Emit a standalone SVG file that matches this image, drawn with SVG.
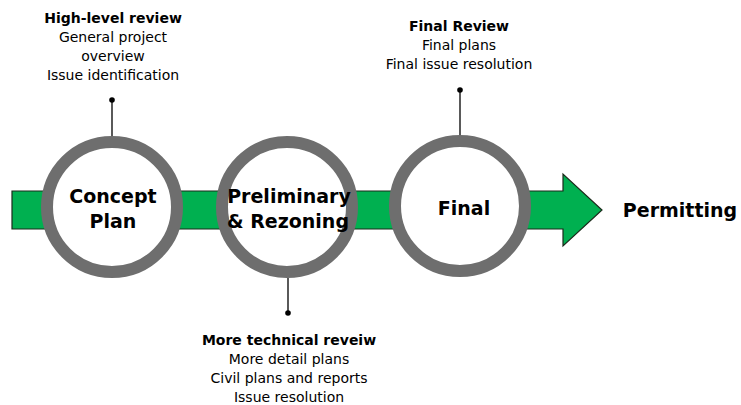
<svg xmlns="http://www.w3.org/2000/svg" width="741" height="405" viewBox="0 0 741 405">
<style>
  text { font-family: "DejaVu Sans", Verdana, sans-serif; fill: #000; text-anchor: middle; }
  .note { font-size: 14px; }
  .noteb { font-size: 14px; font-weight: bold; }
  .stage { font-size: 19px; font-weight: bold; }
  .ring { fill: #fff; stroke: #6e6e6e; stroke-width: 12; }
  .lead { stroke: #000; stroke-width: 1.3; fill: none; }
</style>
<rect width="741" height="405" fill="#fff"/>
<g id="arrow">
  <polygon points="12,191 563,191 563,174 602,210 563,246 563,229 12,229" fill="#00b050" stroke="#1b2a1b" stroke-width="1.2"/>
</g>
<g id="connectors">
  <line class="lead" x1="112" y1="100" x2="112" y2="137"/>
  <circle cx="112" cy="100" r="2.8" fill="#000"/>
  <line class="lead" x1="288" y1="278" x2="288" y2="313"/>
  <circle cx="288" cy="313" r="2.8" fill="#000"/>
  <line class="lead" x1="460" y1="90" x2="460" y2="136"/>
  <circle cx="460" cy="90" r="2.8" fill="#000"/>
</g>
<g id="concept">
  <circle class="ring" cx="112" cy="207" r="65"/>
  <text class="stage" x="113" y="203">Concept</text>
  <text class="stage" x="113" y="228">Plan</text>
</g>
<g id="preliminary">
  <circle class="ring" cx="287" cy="207" r="65"/>
  <text class="stage" x="289" y="203">Preliminary</text>
  <text class="stage" x="288" y="228">&amp; Rezoning</text>
</g>
<g id="final">
  <circle class="ring" cx="460" cy="206" r="65"/>
  <text class="stage" x="464" y="215">Final</text>
</g>
<g id="permitting">
  <text class="stage" x="680" y="217">Permitting</text>
</g>
<g id="note-concept">
  <text class="noteb" x="113" y="23">High-level review</text>
  <text class="note" x="113" y="42">General project</text>
  <text class="note" x="113" y="61">overview</text>
  <text class="note" x="113" y="80">Issue identification</text>
</g>
<g id="note-preliminary">
  <text class="noteb" x="289" y="345">More technical reveiw</text>
  <text class="note" x="289" y="364">More detail plans</text>
  <text class="note" x="289" y="383">Civil plans and reports</text>
  <text class="note" x="289" y="402">Issue resolution</text>
</g>
<g id="note-final">
  <text class="noteb" x="459" y="31">Final Review</text>
  <text class="note" x="459" y="50">Final plans</text>
  <text class="note" x="459" y="69">Final issue resolution</text>
</g>
</svg>
